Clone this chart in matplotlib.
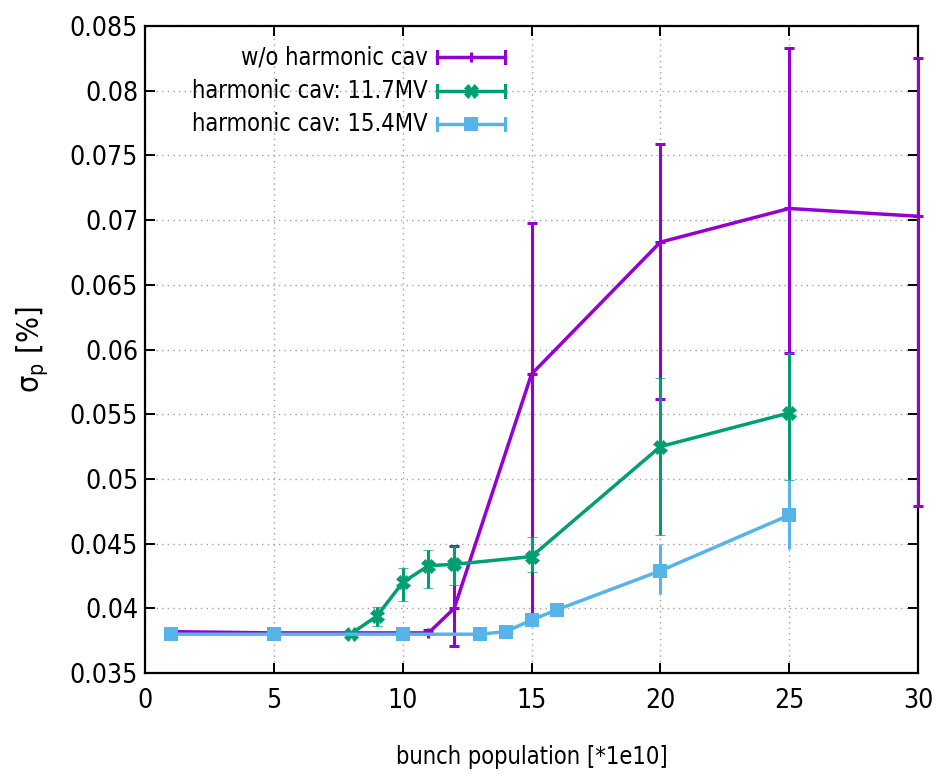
import matplotlib
matplotlib.use("Agg")
import matplotlib.pyplot as plt
from matplotlib.ticker import FixedLocator, FixedFormatter

plt.rcParams['font.family'] = ['DejaVu Sans']
plt.rcParams['font.stretch'] = 'condensed'

# w/o harmonic cavity
x_no = [1, 5, 10, 11, 12, 15, 20, 25, 30]
y_no = [0.0382, 0.0381, 0.0381, 0.0381, 0.0400, 0.0581, 0.0683, 0.0709, 0.0703]
lo_no = [0.0381, 0.0380, 0.0380, 0.0380, 0.0371, 0.0390, 0.0562, 0.0597, 0.0479]
hi_no = [0.0383, 0.0382, 0.0382, 0.0383, 0.0448, 0.0698, 0.0759, 0.0833, 0.0825]

# harmonic cavity 11.7 MV
x_h1 = [8, 9, 10, 11, 12, 15, 20, 25]
y_h1 = [0.03805, 0.0394, 0.0420, 0.0433, 0.0434, 0.0440, 0.0525, 0.0551]
lo_h1 = [0.0380, 0.0386, 0.0406, 0.0416, 0.0418, 0.0428, 0.0457, 0.0499]
hi_h1 = [0.0381, 0.0401, 0.0431, 0.0445, 0.0448, 0.0455, 0.0578, 0.0597]

# harmonic cavity 15.4 MV
x_h2 = [1, 5, 10, 13, 14, 15, 16, 20, 25]
y_h2 = [0.0380, 0.0380, 0.0380, 0.0380, 0.0382, 0.0391, 0.0399, 0.0429, 0.0472]
lo_h2 = [0.0380, 0.0380, 0.0380, 0.0380, 0.0381, 0.0389, 0.0398, 0.0411, 0.0446]
hi_h2 = [0.0380, 0.0380, 0.0380, 0.0380, 0.0383, 0.0393, 0.0400, 0.0450, 0.0499]

labels = ["w/o harmonic cav", "harmonic cav: 11.7MV", "harmonic cav: 15.4MV"]
colors = ["#9400d3", "#009e73", "#56b4e9"]

x_ticks = [0, 5, 10, 15, 20, 25, 30]
y_ticks = [0.035, 0.04, 0.045, 0.05, 0.055, 0.06, 0.065, 0.07, 0.075, 0.08, 0.085]
y_tick_labels = ["0.035", "0.04", "0.045", "0.05", "0.055", "0.06",
                 "0.065", "0.07", "0.075", "0.08", "0.085"]

fig = plt.figure(figsize=(9.4, 7.77), dpi=100)
ax = fig.add_axes([0.1543, 0.1338, 0.8223, 0.8327])

styles = [
    dict(marker='+', ms=6.5, mew=2.2),
    dict(marker='X', ms=10, mew=0.5),
    dict(marker='s', ms=10.5, mew=0),
]

series = [(x_no, y_no, lo_no, hi_no), (x_h1, y_h1, lo_h1, hi_h1), (x_h2, y_h2, lo_h2, hi_h2)]
for i, (xs, ys, lo, hi) in enumerate(series):
    err = [[y - l for y, l in zip(ys, lo)], [h - y for y, h in zip(ys, hi)]]
    ax.errorbar(xs, ys, yerr=err, color=colors[i], lw=2.5, elinewidth=2.2,
                capsize=3.4, capthick=2.2, zorder=3 + i, clip_on=(i != 0),
                mec=colors[i], mfc=colors[i], **styles[i])

ax.set_xlim(0, 30)
ax.set_ylim(0.035, 0.085)
ax.xaxis.set_major_locator(FixedLocator(x_ticks))
ax.yaxis.set_major_locator(FixedLocator(y_ticks))
ax.yaxis.set_major_formatter(FixedFormatter(y_tick_labels))
ax.grid(True, color='#a0a0a0', linestyle=(0, (1, 3)), linewidth=1.0)
ax.tick_params(direction='in', length=7, width=1.4, top=True, right=True,
               labelsize=19, colors='black')
ax.tick_params(axis='x', pad=11)
ax.tick_params(axis='y', pad=5)
for s in ax.spines.values():
    s.set_linewidth(1.6)

ax.set_xlabel("bunch population [*1e10]", fontsize=17, labelpad=22)
ax.set_ylabel("σ$_{\\mathrm{p}}$ [%]", fontsize=22, labelpad=14)

# key in the upper left: right-aligned text followed by an error-bar sample
rows = [0.952, 0.900, 0.849]
tx, x0, x1, xm = 0.366, 0.378, 0.466, 0.422
cap = 0.009
for i, yk in enumerate(rows):
    ax.text(tx, yk, labels[i], transform=ax.transAxes, ha='right', va='center',
            fontsize=17, zorder=10)
    ax.plot([x0, x1], [yk, yk], transform=ax.transAxes, color=colors[i], lw=2.5, zorder=10)
    for xe in (x0, x1):
        ax.plot([xe, xe], [yk - cap, yk + cap], transform=ax.transAxes,
                color=colors[i], lw=2.2, zorder=10)
    ax.plot([xm], [yk], transform=ax.transAxes, color=colors[i], lw=0,
            mec=colors[i], mfc=colors[i], zorder=11, **styles[i])

fig.savefig("out.png", dpi=100)
